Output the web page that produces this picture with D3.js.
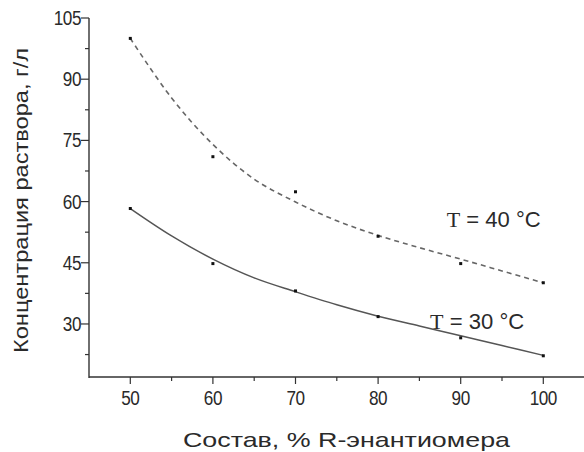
<!DOCTYPE html>
<html><head><meta charset="utf-8">
<script src="https://cdn.jsdelivr.net/npm/d3@7"></script>
<style>
html,body{margin:0;padding:0;background:#fff;}
svg{display:block;}
text{font-family:"Liberation Sans",Arial,sans-serif;fill:#2a2a2a;}
</style></head>
<body>
<svg id="chart" width="584" height="452"></svg>
<script>
// Data
const composition = [50, 60, 70, 80, 90, 100];
const conc40 = [100.0, 71.0, 62.4, 51.5, 44.8, 40.1];
const conc30 = [58.3, 44.8, 38.1, 31.8, 26.6, 22.2];
// fitted trend lines
const fitX = [50, 55, 60, 65, 70, 75, 80, 85, 90, 95, 100];
const fit40 = [100.0, 85.4, 74.0, 65.5, 59.9, 55.3, 51.7, 48.7, 45.9, 43.0, 40.1];
const fit30 = [58.3, 51.6, 45.9, 41.3, 37.9, 34.7, 31.9, 29.5, 27.1, 24.7, 22.3];
const xTicks = [50, 60, 70, 80, 90, 100];
const xMinor = [55, 65, 75, 85, 95, 105];
const yTicks = [30, 45, 60, 75, 90, 105];
const yMinor = [22.5, 37.5, 52.5, 67.5, 82.5, 97.5];
const labels = [
  {t: "40", x: 88.3, y: 53.8},
  {t: "30", x: 86.3, y: 28.8}
];

(function () {
const svg = d3.select("#chart");
const mLeft = 89, mRight = 584.6, mTop = 18, mBottom = 377;
const x = d3.scaleLinear().domain([45, 105]).range([mLeft, mRight]);
const y = d3.scaleLinear().domain([17, 105]).range([mBottom, mTop]);
const axisColor = "#333";

// axes
svg.append("line").attr("x1", mLeft).attr("x2", mLeft).attr("y1", mTop).attr("y2", mBottom + 1)
  .attr("stroke", axisColor).attr("stroke-width", 1.4);
svg.append("line").attr("x1", mLeft).attr("x2", 584).attr("y1", mBottom).attr("y2", mBottom)
  .attr("stroke", axisColor).attr("stroke-width", 1.4);

// y ticks
svg.selectAll(".ytick").data(yTicks).enter().append("line")
  .attr("x1", mLeft - 8).attr("x2", mLeft).attr("y1", d => y(d)).attr("y2", d => y(d))
  .attr("stroke", axisColor).attr("stroke-width", 1.2);
svg.selectAll(".yminor").data(yMinor).enter().append("line")
  .attr("x1", mLeft - 4).attr("x2", mLeft).attr("y1", d => y(d)).attr("y2", d => y(d))
  .attr("stroke", axisColor).attr("stroke-width", 1.2);
svg.selectAll(".ylab").data(yTicks).enter().append("text")
  .attr("transform", d => `translate(${mLeft - 8},${y(d) + 7}) scale(0.88,1)`)
  .attr("text-anchor", "end")
  .attr("font-size", 19.5).attr("letter-spacing", -0.5).text(d => d);

// x ticks
svg.selectAll(".xtick").data(xTicks).enter().append("line")
  .attr("x1", d => x(d)).attr("x2", d => x(d)).attr("y1", mBottom).attr("y2", mBottom + 7)
  .attr("stroke", axisColor).attr("stroke-width", 1.2);
svg.selectAll(".xminor").data(xMinor).enter().append("line")
  .attr("x1", d => x(d)).attr("x2", d => x(d)).attr("y1", mBottom).attr("y2", mBottom + 4)
  .attr("stroke", axisColor).attr("stroke-width", 1.2);
svg.selectAll(".xlab").data(xTicks).enter().append("text")
  .attr("transform", d => `translate(${x(d)},405) scale(0.88,1)`)
  .attr("text-anchor", "middle")
  .attr("font-size", 19.5).attr("letter-spacing", -0.5).text(d => d);

// axis titles
svg.append("text").attr("x", 346.5).attr("y", 446.5).attr("text-anchor", "middle")
  .attr("font-size", 21).attr("textLength", 327).attr("lengthAdjust", "spacingAndGlyphs")
  .text("Состав, % R-энантиомера");
svg.append("text").attr("transform", "translate(28,200.5) rotate(-90)")
  .attr("text-anchor", "middle").attr("font-size", 19.5)
  .attr("textLength", 305).attr("lengthAdjust", "spacingAndGlyphs")
  .text("Концентрация раствора, г/л");

// fit lines
const fitLine = (vals) => d3.line().x((d, i) => x(fitX[i])).y(d => y(d)).curve(d3.curveCatmullRom.alpha(0.5))(vals);
svg.append("path").attr("d", fitLine(fit40)).attr("fill", "none")
  .attr("stroke", "#666").attr("stroke-width", 1.6).attr("stroke-dasharray", "5,4");
svg.append("path").attr("d", fitLine(fit30)).attr("fill", "none")
  .attr("stroke", "#555").attr("stroke-width", 1.5);

// points
[conc40, conc30].forEach(series => {
  svg.append("g").selectAll("rect").data(series).enter().append("rect")
    .attr("x", (d, i) => x(composition[i]) - 1.5).attr("y", d => y(d) - 1.5)
    .attr("width", 3).attr("height", 3).attr("fill", "#111");
});

// labels
labels.forEach(l => {
  const t = svg.append("text").attr("x", x(l.x)).attr("y", y(l.y)).attr("font-size", 22)
    .attr("textLength", 94).attr("lengthAdjust", "spacingAndGlyphs");
  t.append("tspan").attr("font-family", "'Liberation Serif','Times New Roman',serif").text("T");
  t.append("tspan").text(" = " + l.t + " °C");
});
})();
</script>
</body></html>
